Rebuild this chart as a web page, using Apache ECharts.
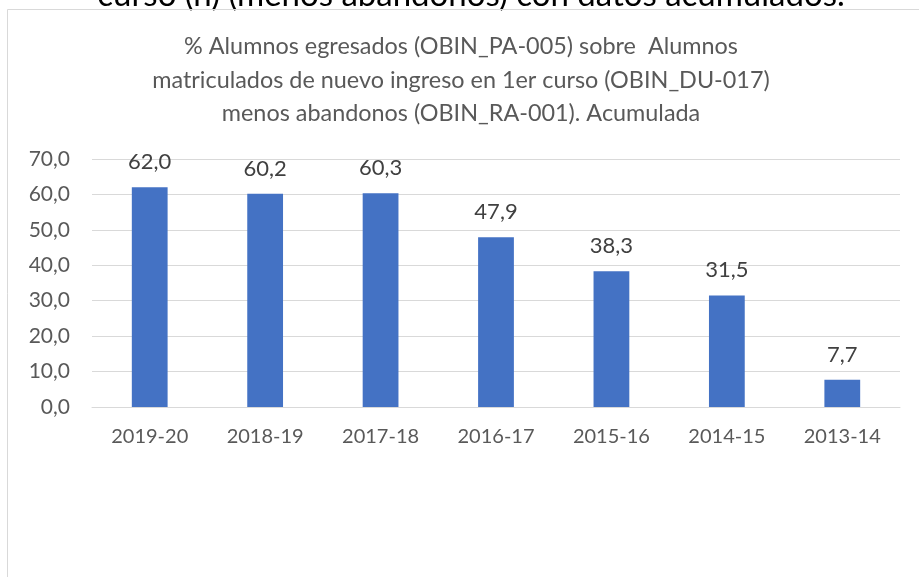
<!DOCTYPE html>
<html>
<head>
<meta charset="utf-8">
<script src="https://cdn.jsdelivr.net/npm/echarts@6/dist/echarts.min.js"></script>
<style>
  html, body { margin: 0; padding: 0; background: #ffffff; }
  #chart { width: 919px; height: 577px; }
</style>
</head>
<body>
<div id="chart"></div>
<script>
// Academic years, most recent first
var categories = ['2019-20', '2018-19', '2017-18', '2016-17', '2015-16', '2014-15', '2013-14'];
// Accumulated graduation rate (%)
var values = [62.0, 60.2, 60.3, 47.9, 38.3, 31.5, 7.7];
// Value axis range
var yMin = 0;
var yMax = 70;
var yStep = 10;

var FONT = 'Lato';
var chart = echarts.init(document.getElementById('chart'), null, { renderer: 'canvas' });

function fmt(v) {
  return v.toFixed(1).replace('.', ',');
}

chart.setOption({
  backgroundColor: '#ffffff',
  animation: false,
  title: {
    text: '% Alumnos egresados (OBIN_PA-005) sobre  Alumnos\nmatriculados de nuevo ingreso en 1er curso (OBIN_DU-017)\nmenos abandonos (OBIN_RA-001). Acumulada',
    left: 456,
    textAlign: 'center',
    top: 25,
    textStyle: {
      fontFamily: FONT,
      fontSize: 23.4,
      fontWeight: 'normal',
      color: '#595959',
      lineHeight: 33.5
    }
  },
  graphic: [
    {
      // caption line above the chart frame (partly cut by the page edge)
      type: 'text',
      x: 0,
      y: 0,
      silent: true,
      style: {
        text: 'curso (n) (menos abandonos) con datos acumulados.',
        x: 471,
        y: 12,
        font: '33px ' + FONT,
        fill: '#000000',
        align: 'center',
        verticalAlign: 'bottom'
      }
    },
    {
      type: 'rect',
      shape: { x: 7.5, y: 9.5, width: 1000, height: 700 },
      style: { fill: 'none', stroke: '#d9d9d9', lineWidth: 1 },
      silent: true
    }
  ],
  grid: {
    left: 92,
    right: 19,
    top: 159,
    bottom: 170
  },
  xAxis: {
    type: 'category',
    data: categories,
    axisLine: { show: true, lineStyle: { color: '#d9d9d9', width: 1 } },
    axisTick: { show: false },
    axisLabel: {
      fontFamily: FONT,
      fontSize: 20,
      color: '#595959',
      margin: 20
    }
  },
  yAxis: {
    type: 'value',
    min: yMin,
    max: yMax,
    interval: yStep,
    axisLine: { show: false },
    axisTick: { show: false },
    splitLine: { lineStyle: { color: '#d9d9d9', width: 1 } },
    axisLabel: {
      fontFamily: FONT,
      fontSize: 21,
      color: '#595959',
      margin: 22,
      formatter: function (v) { return fmt(v); }
    }
  },
  series: [{
    type: 'bar',
    data: values,
    barWidth: '31%',
    itemStyle: { color: '#4472c4' },
    label: {
      show: true,
      position: 'top',
      distance: 14,
      fontFamily: FONT,
      fontSize: 22,
      color: '#404040',
      formatter: function (p) { return fmt(p.value); }
    }
  }]
});
</script>
</body>
</html>
